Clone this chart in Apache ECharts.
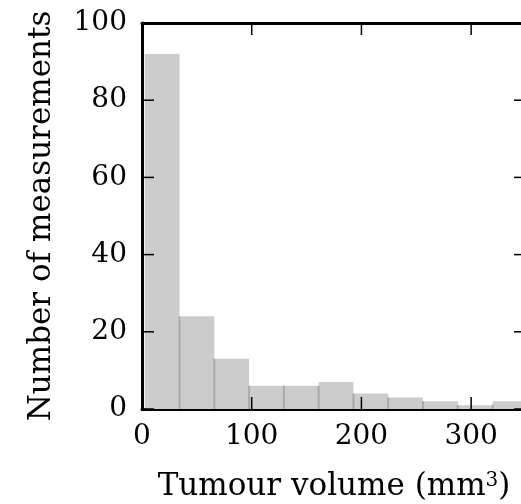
<!DOCTYPE html>
<html>
<head>
<meta charset="utf-8">
<script src="https://cdn.jsdelivr.net/npm/echarts@6/dist/echarts.min.js"></script>
<style>
  html, body { margin: 0; padding: 0; background: #fff; overflow: hidden; }
  /* plot runs a few px past the right edge, like the cropped original */
  #chart { width: 526px; height: 504px; }
</style>
</head>
<body>
<div id="chart"></div>
<script>
  // histogram bins (edges in mm^3) and counts per bin
  var binEdges = [2.5, 34.2, 65.9, 97.6, 129.3, 161.0, 192.7, 224.4, 256.1, 287.8, 319.5, 351.2];
  var counts = [92, 24, 13, 6, 6, 7, 4, 3, 2, 1, 2];
  var xTicks = [0, 100, 200, 300];
  var yTicks = [0, 20, 40, 60, 80, 100];

  var font = 'DejaVu Serif';
  var TICK_LEN = 12;

  // bars first, then tick items, all in one series so ticks paint over the bars
  var items = counts.map(function (c, i) {
    return [binEdges[i], binEdges[i + 1], c, i > 0 ? Math.min(c, counts[i - 1]) : 0];
  });
  xTicks.forEach(function (v) { items.push([v, v, 0, 0]); });
  yTicks.forEach(function (v) { items.push([0, 0, v, 0]); });

  function line(x1, y1, x2, y2, color, width) {
    return { type: 'line', shape: { x1: x1, y1: y1, x2: x2, y2: y2 }, style: { stroke: color, lineWidth: width } };
  }

  function renderItem(params, api) {
    var i = params.dataIndex;
    var cs = params.coordSys;
    if (i < counts.length) {
      var x0 = api.value(0), x1 = api.value(1), h = api.value(2), sep = api.value(3);
      var p0 = api.coord([x0, h]);
      var p1 = api.coord([x1, 0]);
      var children = [{
        type: 'rect',
        shape: { x: p0[0], y: p0[1], width: p1[0] - p0[0], height: p1[1] - p0[1] },
        style: { fill: '#cccccc' }
      }];
      if (i > 0) {
        var s = api.coord([x0, sep]);
        children.push(line(p0[0], s[1], p0[0], p1[1], '#a9a9a9', 2));
      }
      return { type: 'group', children: children };
    }
    var k = i - counts.length;
    var bottom = cs.y + cs.height, right = cs.x + cs.width;
    if (k < xTicks.length) {
      var x = api.coord([api.value(0), 0])[0];
      return { type: 'group', children: [
        line(x, bottom, x, bottom - TICK_LEN, '#000', 1.5),
        line(x, cs.y, x, cs.y + TICK_LEN, '#000', 1.5)
      ] };
    }
    var y = api.coord([0, api.value(2)])[1];
    return { type: 'group', children: [
      line(cs.x, y, cs.x + TICK_LEN, y, '#000', 1.5),
      line(right, y, right - TICK_LEN, y, '#000', 1.5)
    ] };
  }

  function spine() {
    return { show: true, onZero: false, lineStyle: { color: '#000', width: 3 } };
  }
  var tickLabel = { color: '#000', fontFamily: font, fontSize: 28 };

  var option = {
    animation: false,
    grid: { left: 142, top: 23, right: 0, bottom: 95, containLabel: false, outerBoundsMode: 'none' },
    xAxis: [{
      type: 'value', position: 'bottom', min: 0, max: 350, interval: 100,
      axisLine: spine(), axisTick: { show: false }, splitLine: { show: false },
      axisLabel: Object.assign({ margin: 14, customValues: xTicks }, tickLabel),
      name: 'Tumour volume (mm{sup|3})', nameLocation: 'middle', nameGap: 62,
      nameTextStyle: {
        color: '#000', fontFamily: font, fontSize: 31,
        rich: { sup: { fontFamily: font, fontSize: 20, color: '#000', verticalAlign: 'top', padding: [0, 0, 12, 0] } }
      }
    }, {
      type: 'value', position: 'top', min: 0, max: 350, interval: 100,
      axisLine: spine(), axisTick: { show: false },
      axisLabel: { show: false }, splitLine: { show: false }
    }],
    yAxis: [{
      type: 'value', position: 'left', min: 0, max: 100, interval: 20,
      axisLine: spine(), axisTick: { show: false }, splitLine: { show: false },
      axisLabel: Object.assign({ margin: 15, customValues: yTicks }, tickLabel),
      name: 'Number of measurements', nameLocation: 'middle', nameGap: 85,
      nameTextStyle: { color: '#000', fontFamily: font, fontSize: 31 }
    }, {
      type: 'value', position: 'right', min: 0, max: 100, interval: 20,
      axisLine: spine(), axisTick: { show: false }, axisLabel: { show: false }, splitLine: { show: false }
    }],
    series: [{
      type: 'custom',
      renderItem: renderItem,
      clip: true,
      encode: { x: [0, 1], y: 2 },
      data: items
    }]
  };

  var chart = echarts.init(document.getElementById('chart'));
  chart.setOption(option);
</script>
</body>
</html>
